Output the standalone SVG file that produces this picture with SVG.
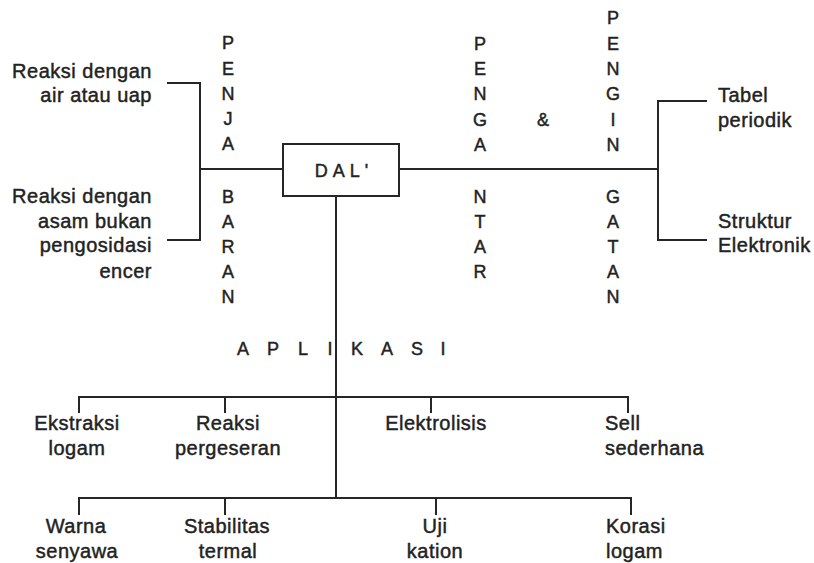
<svg xmlns="http://www.w3.org/2000/svg" width="814" height="563" viewBox="0 0 814 563">
<style>
text{font-family:"Liberation Sans",Arial,sans-serif;fill:#222;stroke:#222;stroke-width:0.45}
.lbl{font-size:20px;letter-spacing:0.5px}
.r{text-anchor:end}
.m{text-anchor:middle}
.v{font-size:18px;text-anchor:middle}
.ln{stroke:#262626;stroke-width:2;fill:none}
</style>
<rect width="814" height="563" fill="#fff"/>
<g id="connectors" class="ln">
<path d="M167 83H200V240H167"/>
<path d="M200 169H283"/>
<path d="M399 169H658"/>
<path d="M707 101H658V240H707"/>
<path d="M336 196V498"/>
<path d="M79 413V397H628V413"/>
<path d="M225 397V413"/>
<path d="M431 397V413"/>
<path d="M79 515V498H631V515"/>
<path d="M225 498V515"/>
<path d="M436 498V515"/>
</g>
<g id="dal">
<rect x="283" y="144" width="116" height="52" fill="#fff" class="ln"/>
<text x="344" y="177" class="m" style="font-size:18px;letter-spacing:5px">DAL'</text>
</g>
<g id="penjabaran">
<text class="v"><tspan x="228" y="49">P</tspan><tspan x="228" y="75">E</tspan><tspan x="228" y="100">N</tspan><tspan x="228" y="125">J</tspan><tspan x="228" y="150">A</tspan><tspan x="228" y="203">B</tspan><tspan x="228" y="228">A</tspan><tspan x="228" y="253">R</tspan><tspan x="228" y="278">A</tspan><tspan x="228" y="303">N</tspan></text>
</g>
<g id="pengantar">
<text class="v"><tspan x="480" y="50">P</tspan><tspan x="480" y="75">E</tspan><tspan x="480" y="100">N</tspan><tspan x="480" y="126">G</tspan><tspan x="480" y="151">A</tspan><tspan x="480" y="203">N</tspan><tspan x="480" y="228">T</tspan><tspan x="480" y="253">A</tspan><tspan x="480" y="278">R</tspan></text>
<text class="v" x="543" y="126">&amp;</text>
</g>
<g id="pengingatan">
<text class="v"><tspan x="613" y="24">P</tspan><tspan x="613" y="50">E</tspan><tspan x="613" y="75">N</tspan><tspan x="613" y="100">G</tspan><tspan x="613" y="126">I</tspan><tspan x="613" y="151">N</tspan><tspan x="613" y="203">G</tspan><tspan x="613" y="228">A</tspan><tspan x="613" y="253">T</tspan><tspan x="613" y="278">A</tspan><tspan x="613" y="303">N</tspan></text>
</g>
<g id="reaksi-air">
<text class="lbl r"><tspan x="152" y="78">Reaksi dengan</tspan><tspan x="152" y="102">air atau uap</tspan></text>
</g>
<g id="reaksi-asam">
<text class="lbl r"><tspan x="152" y="203">Reaksi dengan</tspan><tspan x="152" y="228">asam bukan</tspan><tspan x="152" y="252">pengosidasi</tspan><tspan x="152" y="278">encer</tspan></text>
</g>
<g id="tabel">
<text class="lbl"><tspan x="718" y="102">Tabel</tspan><tspan x="718" y="127">periodik</tspan></text>
</g>
<g id="struktur">
<text class="lbl"><tspan x="718" y="228">Struktur</tspan><tspan x="718" y="252">Elektronik</tspan></text>
</g>
<g id="aplikasi">
<text class="v" x="243 273 303 330 357 387 417 443" y="355">APLIKASI</text>
</g>
<g id="ekstraksi">
<text class="lbl m"><tspan x="77" y="430">Ekstraksi</tspan><tspan x="77" y="455">logam</tspan></text>
</g>
<g id="pergeseran">
<text class="lbl m"><tspan x="228" y="430">Reaksi</tspan><tspan x="228" y="455">pergeseran</tspan></text>
</g>
<g id="elektrolisis">
<text class="lbl m"><tspan x="436" y="430">Elektrolisis</tspan></text>
</g>
<g id="sell">
<text class="lbl"><tspan x="605" y="430">Sell</tspan><tspan x="605" y="455">sederhana</tspan></text>
</g>
<g id="warna">
<text class="lbl m"><tspan x="76" y="533">Warna</tspan><tspan x="77" y="558">senyawa</tspan></text>
</g>
<g id="stabilitas">
<text class="lbl m"><tspan x="227" y="533">Stabilitas</tspan><tspan x="228" y="558">termal</tspan></text>
</g>
<g id="uji">
<text class="lbl m"><tspan x="435" y="533">Uji</tspan><tspan x="435" y="558">kation</tspan></text>
</g>
<g id="korasi">
<text class="lbl"><tspan x="606" y="533">Korasi</tspan><tspan x="606" y="558">logam</tspan></text>
</g>
</svg>
